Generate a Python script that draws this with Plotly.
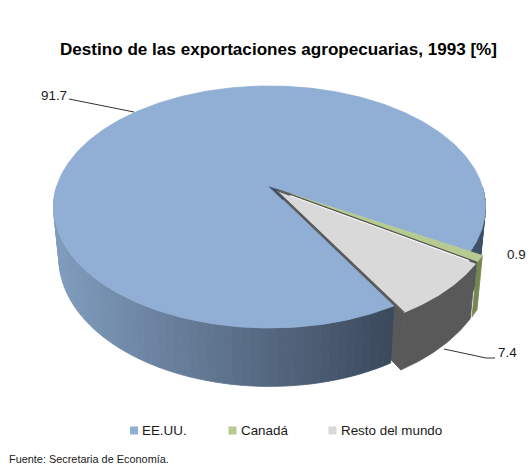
import numpy as np
import plotly.graph_objects as go

categories = ["EE.UU.", "Canadá", "Resto del mundo"]
values = [91.7, 0.9, 7.4]
value_labels = ["91.7", "0.9", "7.4"]
top_colors = ["#91AFD5", "#B6CB8F", "#D9D9D9"]
wall_colors = [None, "#77864F", "#595959"]
title_text = "Destino de las exportaciones agropecuarias, 1993 [%]"
source_text = "Fuente: Secretaria de Economía."

W, H = 528, 467
CX, CY, RX, B, K = 269.5, 187.0, 213.0, 117.7, 0.165
DEPTH, BOTTOM_X = 50.0, 0.975
FIRST_ANGLE = 150.0
EXPLODE = 0.055


def project(X, Y, bottom=False):
    X, Y = np.asarray(X, float), np.asarray(Y, float)
    s = 1.0 / (1.0 + K * Y)
    sx = CX + RX * X * s * (BOTTOM_X if bottom else 1.0)
    sy = CY - B * Y * s * (1 if not bottom else 0.99) + (DEPTH * s if bottom else 0)
    return sx, sy


def wedge_pts(a0, a1, off, n=80, bottom=False):
    t = np.radians(np.linspace(a0, a1, n))
    return project(off[0] + np.cos(t), off[1] + np.sin(t), bottom)


def poly(fig, xs, ys, color):
    fig.add_trace(go.Scatter(x=list(xs) + [xs[0]], y=list(ys) + [ys[0]], mode="lines",
                             fill="toself", fillcolor=color, line=dict(color=color, width=0.8),
                             hoverinfo="skip", showlegend=False))


# slice angles (model angle, counter-clockwise from +X; the pie runs clockwise)
total = sum(values)
cw = FIRST_ANGLE
spans = []
for v in values:
    sweep = 360.0 * v / total
    spans.append((90 - cw, 90 - cw - sweep))
    cw += sweep

offsets = [(0.0, 0.0)]
for a0, a1 in spans[1:]:
    m = np.radians((a0 + a1) / 2)
    offsets.append((EXPLODE * np.cos(m), EXPLODE * np.sin(m)))

fig = go.Figure()


def shade(x):
    f = float(np.clip((x - 55) / (395 - 55), 0, 1))
    c0, c1 = np.array([128, 156, 190]), np.array([60, 73, 92])
    c = c0 + (c1 - c0) * f
    return "rgb(%d,%d,%d)" % tuple(c)


# inner radial face of the grey slice (sits behind the blue wall)
for i in (2,):
    s0, s1 = spans[i]
    off = offsets[i]
    t = np.radians(s1)
    cx0, cy0 = project(off[0], off[1])
    cx1, cy1 = project(off[0], off[1], True)
    ex0, ey0 = project(off[0] + np.cos(t), off[1] + np.sin(t))
    ex1, ey1 = project(off[0] + np.cos(t), off[1] + np.sin(t), True)
    poly(fig, [cx0, ex0, ex1, cx1], [cy0, ey0, ey1, cy1], wall_colors[i])

# blue outer wall, as shaded bands: only the front-facing part of the arc
bands = np.linspace(-180.0, spans[0][0], 60)
for p, q in zip(bands[:-1], bands[1:]):
    xt, yt = wedge_pts(p, q, offsets[0], 4)
    xb, yb = wedge_pts(q, p, offsets[0], 4, bottom=True)
    poly(fig, np.r_[xt, xb], np.r_[yt, yb], shade(xt.mean()))

# right-hand part of the blue wall, behind the small slices
right = np.linspace(spans[0][1] + 360.0, 0.0, 12)
for p, q in zip(right[:-1], right[1:]):
    xt, yt = wedge_pts(p, q, offsets[0], 4)
    xb, yb = wedge_pts(q, p, offsets[0], 4, bottom=True)
    poly(fig, np.r_[xt, xb], np.r_[yt, yb], "#3E5068")

# outer walls of the two pulled-out slices
for i in (1, 2):
    s0, s1 = spans[i]
    off = offsets[i]
    xt, yt = wedge_pts(s0, s1, off)
    xb, yb = wedge_pts(s1, s0, off, bottom=True)
    poly(fig, np.r_[xt, xb], np.r_[yt, yb], wall_colors[i])

# blue top
s0, s1 = spans[0]
xt, yt = wedge_pts(s0, s1, offsets[0], 400)
cx0, cy0 = project(*offsets[0])
poly(fig, np.r_[cx0, xt], np.r_[cy0, yt], top_colors[0])

# dark cut at the tip of the blue slice
t = np.radians(spans[0][1])
ex, ey = project(np.cos(t) * 0.12, np.sin(t) * 0.12)
t2 = np.radians(spans[0][0])
fx, fy = project(np.cos(t2) * 0.12, np.sin(t2) * 0.12)
poly(fig, [cx0, ex, fx], [cy0, ey, fy], "#3E4E66")

# tops of the small slices
for i in (1, 2):
    off = offsets[i]
    s0, s1 = spans[i]
    xt, yt = wedge_pts(s0, s1, off, 60)
    px, py = project(*off)
    poly(fig, np.r_[px, xt], np.r_[py, yt], top_colors[i])
    fig.add_trace(go.Scatter(x=[px, xt[-1]], y=[py, yt[-1]], mode="lines",
                             line=dict(color="#555555", width=1.2), hoverinfo="skip", showlegend=False))

# leader lines
fig.add_trace(go.Scatter(x=[69, 134], y=[99, 112], mode="lines", line=dict(color="#333333", width=1),
                         hoverinfo="skip", showlegend=False))
fig.add_trace(go.Scatter(x=[444, 486, 495], y=[349, 358, 358], mode="lines", line=dict(color="#333333", width=1),
                         hoverinfo="skip", showlegend=False))

# legend row: square key followed by its real-text name
key_x = [134, 232.5, 332.5]
fig.add_trace(go.Scatter(x=key_x, y=[430.5] * 3, mode="markers",
                         marker=dict(symbol="square", size=8, color=top_colors),
                         hoverinfo="skip", showlegend=False))

ann = [
    dict(x=54, y=95, text=value_labels[0]),
    dict(x=516.5, y=254, text=value_labels[1]),
    dict(x=507.5, y=352, text=value_labels[2]),
]
annotations = [dict(x=a["x"], y=a["y"], xref="x", yref="y", text=a["text"], showarrow=False,
                    font=dict(size=13.4, color="#1a1a1a")) for a in ann]
for kx, name in zip(key_x, categories):
    annotations.append(dict(x=kx + 6, y=430, xref="x", yref="y", text=name, showarrow=False, xanchor="left",
                            font=dict(size=13.4, color="#1a1a1a")))
annotations.append(dict(x=7, y=459, xref="x", yref="y", text=source_text, showarrow=False, xanchor="left",
                        font=dict(size=10.9, color="#1a1a1a")))

fig.update_layout(
    width=W, height=H,
    margin=dict(l=0, r=0, t=0, b=0),
    paper_bgcolor="white", plot_bgcolor="white",
    font=dict(family="Liberation Sans, Arial, sans-serif"),
    title=dict(text="<b>%s</b>" % title_text, x=278.5 / W, xanchor="center", y=1 - 49 / H, yanchor="middle",
               font=dict(size=17.1, color="#000000")),
    xaxis=dict(range=[0, W], visible=False, fixedrange=True),
    yaxis=dict(range=[H, 0], visible=False, fixedrange=True),
    annotations=annotations,
    showlegend=False,
)
fig.write_html("out.html", config=dict(displayModeBar=False),
               post_script="document.body.style.margin='0';document.documentElement.style.overflow='hidden';")
